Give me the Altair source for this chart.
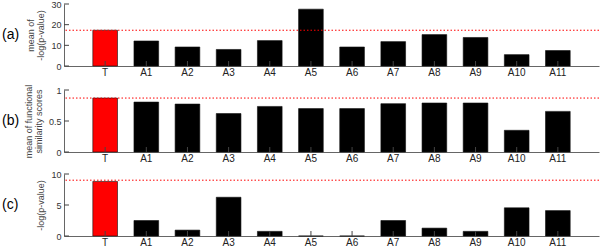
import altair as alt
import pandas as pd

categories = ["T", "A1", "A2", "A3", "A4", "A5", "A6", "A7", "A8", "A9", "A10", "A11"]
a_values = [17.3, 12.1, 9.2, 8.0, 12.3, 27.5, 9.2, 11.8, 15.2, 13.8, 5.5, 7.5]
b_values = [0.87, 0.805, 0.773, 0.62, 0.735, 0.70, 0.70, 0.78, 0.79, 0.79, 0.35, 0.655]
c_values = [8.8, 2.5, 0.95, 6.25, 0.75, 0.0, 0.0, 2.5, 1.27, 0.75, 4.55, 4.1]
thresholds = [17.3, 0.87, 9.0]
panel_labels = ["(a)", "(b)", "(c)"]
y_titles = [["mean of", "-log(p-value)"], ["mean of functional", "similarity scores"], ["-log(p-value)"]]
y_domains = [[0, 30], [0, 1], [0, 10]]
y_ticks = [[0, 10, 20, 30], [0, 0.5, 1], [0, 5, 10]]
heights = [62, 62, 62]

W = 535
FONT = "Liberation Sans"


def panel(values, thr, label, title, domain, ticks, H):
    df = pd.DataFrame({"cat": categories, "val": values})
    df["hl"] = ["T" if c == "T" else "other" for c in categories]
    yscale = alt.Scale(domain=domain, nice=False)
    xs = alt.X(
        "cat:N",
        sort=categories,
        scale=alt.Scale(paddingInner=0.4, paddingOuter=0.7),
        axis=alt.Axis(title=None, labelAngle=0, tickSize=0, labelPadding=1,
                      labelFontSize=10, labelColor="#222", domainColor="#666",
                      labelFont=FONT),
    )
    yaxis = alt.Axis(title=title, values=ticks, tickCount=len(ticks), tickSize=0,
                     labelOverlap=False, domainColor="#666", labelPadding=3,
                     labelFontSize=9, labelColor="#333", labelFont=FONT, titleFont=FONT,
                     titleFontSize=9, titleFontWeight="normal", titleColor="#444",
                     titlePadding=5, titleLineHeight=10, grid=False,
                     labelExpr="'' + datum.value")
    bars = alt.Chart(df).mark_bar(stroke="#111", strokeWidth=0.6).encode(
        x=xs,
        y=alt.Y("val:Q", scale=yscale, axis=yaxis),
        color=alt.Color("hl:N", scale=alt.Scale(domain=["T", "other"], range=["#ff0000", "#000000"]),
                        legend=None),
    )
    xticks = alt.Chart(df).mark_rule(color="#444", strokeWidth=1).encode(
        x=alt.X("cat:N", sort=categories),
        y=alt.value(H), y2=alt.value(H - 5),
    )
    ydf = pd.DataFrame({"tv": ticks})
    yticks = alt.Chart(ydf).mark_rule(color="#444", strokeWidth=1).encode(
        y=alt.Y("tv:Q", scale=yscale, axis=yaxis),
        x=alt.value(0), x2=alt.value(5),
    )
    tdf = pd.DataFrame({"thr": [thr]})
    rule = alt.Chart(tdf).mark_rule(color="#ff0000", strokeWidth=1, strokeDash=[1.5, 2]).encode(
        y=alt.Y("thr:Q", scale=yscale, axis=yaxis)
    )
    ldf = pd.DataFrame({"lab": [label]})
    lab = alt.Chart(ldf).mark_text(align="left", baseline="middle", fontSize=14,
                                   font=FONT, color="#000").encode(
        text="lab:N", x=alt.value(-62), y=alt.value(H / 2)
    )
    return alt.layer(bars, xticks, yticks, rule, lab).properties(width=W, height=H)


panels = [
    panel(v, t, l, ti, d, tk, h)
    for v, t, l, ti, d, tk, h in zip(
        [a_values, b_values, c_values], thresholds, panel_labels, y_titles,
        y_domains, y_ticks, heights)
]

chart = alt.vconcat(*panels, spacing=7).configure_view(stroke=None).properties(
    padding={"left": 2, "top": 0, "right": 0, "bottom": 0}
)

chart.save("out.html", embed_options={"renderer": "svg", "actions": False})
